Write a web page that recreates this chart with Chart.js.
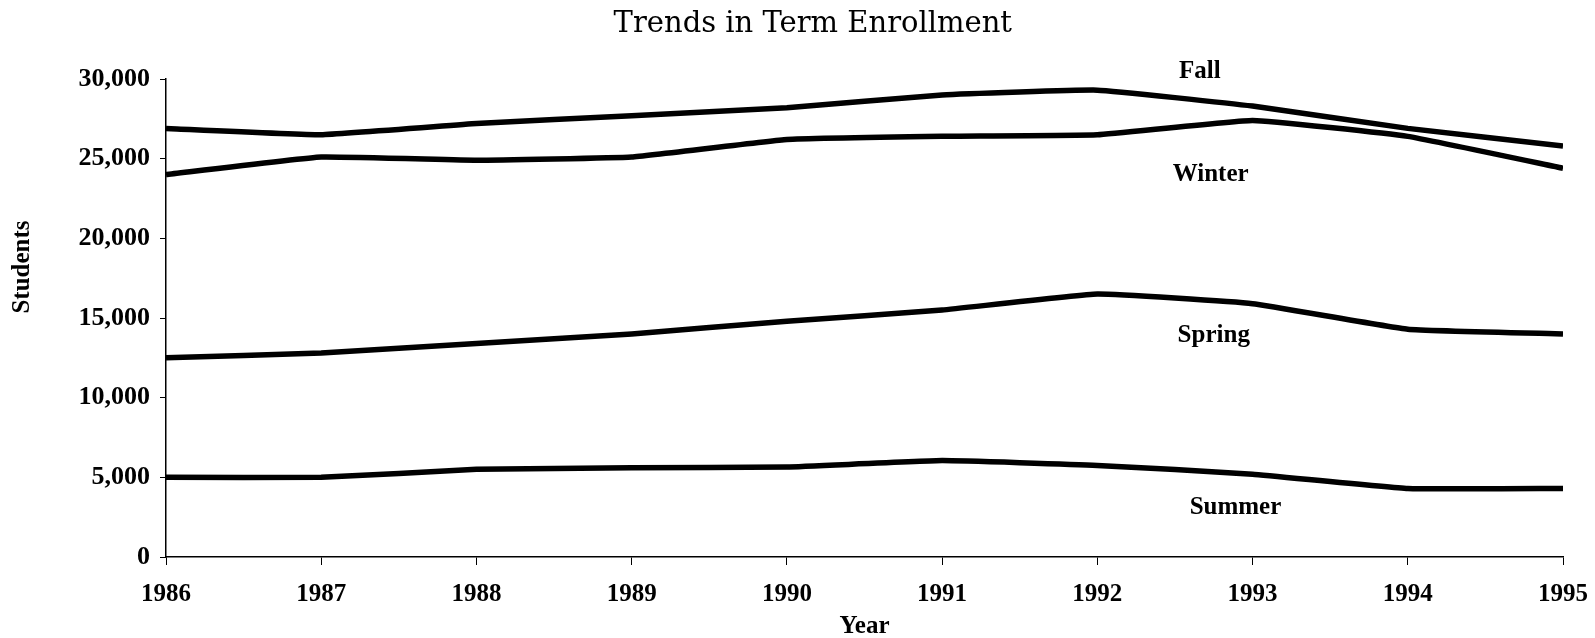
<!DOCTYPE html>
<html>
<head>
<meta charset="utf-8">
<script src="https://cdn.jsdelivr.net/npm/chart.js@4.4.0/dist/chart.umd.min.js"></script>
<style>
  html, body { margin: 0; padding: 0; background: #fff; }
</style>
</head>
<body>
<canvas id="chart" width="1595" height="638"></canvas>
<script>
const years = [1986, 1987, 1988, 1989, 1990, 1991, 1992, 1993, 1994, 1995];
const fall = [26900, 26500, 27200, 27700, 28200, 29000, 29300, 28300, 26900, 25800];
const winter = [24000, 25100, 24900, 25100, 26200, 26400, 26500, 27400, 26400, 24400];
const spring = [12500, 12800, 13400, 14000, 14800, 15500, 16500, 15900, 14300, 14000];
const summer = [5000, 5000, 5500, 5600, 5650, 6050, 5750, 5200, 4300, 4300];
const termNames = ["Fall", "Winter", "Spring", "Summer"];
// where each term name sits, in data units (year, students)
const termLabelYear = [1992.66, 1992.73, 1992.75, 1992.89];
const termLabelValue = [30460, 24000, 13920, 3130];

const chartTitle = "Trends in Term Enrollment";
const yTitle = "Students";
const serif = '"Liberation Serif", "Times New Roman", serif';
Chart.defaults.color = "#000";

function toPoints(values) {
  return years.map((yr, i) => ({ x: yr, y: values[i] }));
}

// title, y axis title and the term names next to their lines
const textLayer = {
  id: "textLayer",
  afterDatasetsDraw(chart) {
    const { ctx, scales, chartArea } = chart;
    ctx.save();
    ctx.fillStyle = "#000";
    ctx.textAlign = "center";
    ctx.textBaseline = "middle";

    ctx.font = '29px "DejaVu Serif", serif';
    ctx.fillText(chartTitle, chartArea.left + (chartArea.right - chartArea.left) * 0.463, 24);

    ctx.font = "bold 25px " + serif;
    termNames.forEach((name, i) => {
      ctx.fillText(name, scales.x.getPixelForValue(termLabelYear[i]), scales.y.getPixelForValue(termLabelValue[i]));
    });

    ctx.translate(23, scales.y.getPixelForValue(18200));
    ctx.rotate(-Math.PI / 2);
    ctx.fillText(yTitle, 0, 0);
    ctx.restore();
  }
};

const lineStyle = {
  borderColor: "#000",
  borderWidth: 5.5,
  pointRadius: 0,
  tension: 0.1,
  fill: false
};

new Chart(document.getElementById("chart"), {
  type: "line",
  data: {
    datasets: [
      { label: termNames[0], data: toPoints(fall), ...lineStyle },
      { label: termNames[1], data: toPoints(winter), ...lineStyle },
      { label: termNames[2], data: toPoints(spring), ...lineStyle },
      { label: termNames[3], data: toPoints(summer), ...lineStyle }
    ]
  },
  options: {
    responsive: false,
    animation: false,
    layout: { padding: { left: 0, right: 32, top: 79, bottom: 0 } },
    plugins: {
      legend: { display: false },
      tooltip: { enabled: false },
      title: { display: false }
    },
    scales: {
      x: {
        type: "linear",
        min: 1986,
        max: 1995,
        afterFit: (scale) => {
          scale.height = 81;
          scale.paddingLeft = 0;
          scale.paddingRight = 0;
        },
        ticks: {
          stepSize: 1,
          padding: 15,
          font: { family: serif, size: 25, weight: "bold" },
          callback: (v) => String(v)
        },
        grid: { drawOnChartArea: false, tickLength: 8, color: "#000" },
        border: { display: true, color: "#000", width: 1.5 },
        title: {
          display: true,
          text: "Year",
          font: { family: serif, size: 25, weight: "bold", lineHeight: 0.9 },
          padding: { top: 0, bottom: 0 }
        }
      },
      y: {
        min: 0,
        max: 30000,
        afterFit: (scale) => { scale.width = 166; },
        ticks: {
          stepSize: 5000,
          padding: 10,
          font: { family: serif, size: 26, weight: "bold" },
          callback: (v) => v.toLocaleString("en-US")
        },
        grid: { drawOnChartArea: false, tickLength: 6, color: "#000" },
        border: { display: true, color: "#000", width: 1.5 },
        title: { display: false }
      }
    }
  },
  plugins: [textLayer]
});
</script>
</body>
</html>
